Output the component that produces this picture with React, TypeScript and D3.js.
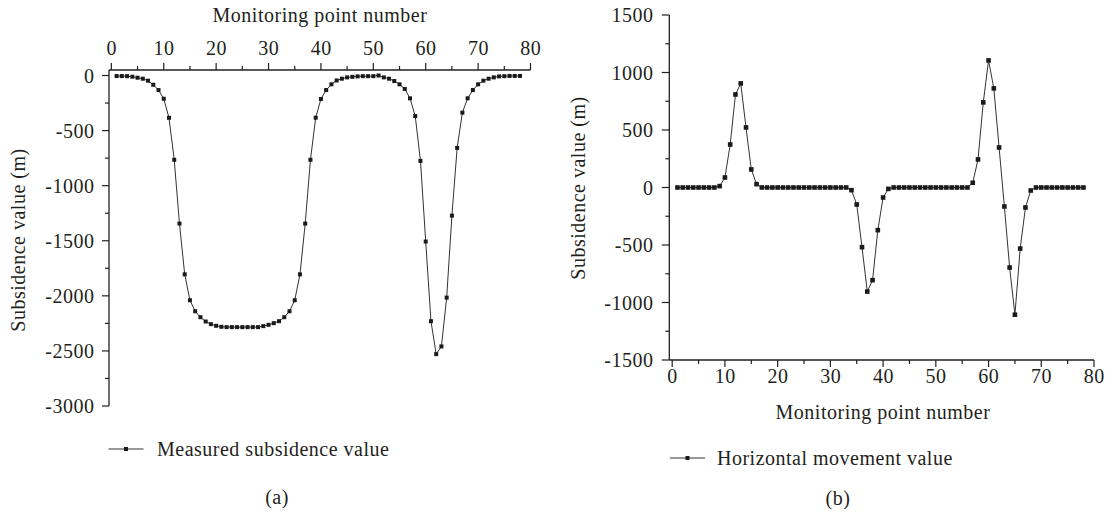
import React from "react";
import * as d3 from "d3";

const pointNumbers: number[] = d3.range(1, 79);

const subsidenceValues: number[] = [
  -5, -5, -6, -11, -20, -29, -47, -84, -132, -211,
  -384, -765, -1344, -1805, -2040, -2140, -2194, -2233, -2257, -2272,
  -2281, -2284, -2284, -2284, -2284, -2284, -2284, -2284, -2275, -2263,
  -2248, -2230, -2194, -2140, -2040, -1805, -1344, -765, -383, -213,
  -132, -80, -45, -29, -17, -12, -8, -6, -6, -6,
  0, -17, -29, -50, -80, -122, -207, -368, -775, -1507,
  -2230, -2529, -2459, -2016, -1272, -657, -337, -207, -132, -80,
  -47, -29, -17, -8, -6, -4, -4, -4,
];

const horizontalValues: number[] = [
  0, 0, 0, 0, 0, 0, 0, 0, 12, 87,
  374, 809, 905, 522, 157, 29, 0, 0, 0, 0,
  0, 0, 0, 0, 0, 0, 0, 0, 0, 0,
  0, 0, 0, -23, -148, -519, -905, -806, -371, -87,
  -12, 0, 0, 0, 0, 0, 0, 0, 0, 0,
  0, 0, 0, 0, 0, 0, 41, 244, 740, 1105,
  862, 348, -165, -696, -1106, -531, -174, -26, 0, 0,
  0, 0, 0, 0, 0, 0, 0, 0,
];

const xTicks: number[] = [0, 10, 20, 30, 40, 50, 60, 70, 80];
const xMinorTicks: number[] = [5, 15, 25, 35, 45, 55, 65, 75];
const leftYTicks: number[] = [0, -500, -1000, -1500, -2000, -2500, -3000];
const leftYMinor: number[] = [-250, -750, -1250, -1750, -2250, -2750];
const rightYTicks: number[] = [1500, 1000, 500, 0, -500, -1000, -1500];
const rightYMinor: number[] = [1250, 750, 250, -250, -750, -1250];

const xTitle = "Monitoring point number";
const yTitle = "Subsidence value (m)";
const legendA = "Measured subsidence value";
const legendB = "Horizontal movement value";

const FONT = "'Liberation Serif', 'Times New Roman', serif";
const FS = 20;
const LS = 0.5;
const INK = "#231f20";

const fmt = (v: number) => (v < 0 ? "-" + Math.abs(v) : String(v));

const textProps = {
  fontSize: FS,
  fontFamily: FONT,
  fill: INK,
  letterSpacing: LS,
  dominantBaseline: "central" as const,
};

function LeftChart() {
  const x = d3.scaleLinear().domain([-0.45, 80]).range([109, 530.5]);
  const y = d3.scaleLinear().domain([-3000, 50]).range([406, 70]);
  const line = d3
    .line<number>()
    .x((_, i) => x(pointNumbers[i]))
    .y((d) => y(d));
  const ax = x.range();
  const ay = y.range();
  const ms = 4;
  return (
    <g>
      <line x1={ax[0]} x2={ax[1]} y1={ay[1]} y2={ay[1]} stroke={INK} strokeWidth={1.3} />
      {xTicks.map((t) => (
        <g key={"xt" + t}>
          <line x1={x(t)} x2={x(t)} y1={ay[1]} y2={ay[1] - 7} stroke={INK} strokeWidth={1.2} />
          <text x={x(t) + 0.3} y={48} textAnchor="middle" {...textProps}>
            {fmt(t)}
          </text>
        </g>
      ))}
      {xMinorTicks.map((t) => (
        <line key={"xm" + t} x1={x(t)} x2={x(t)} y1={ay[1]} y2={ay[1] - 4} stroke={INK} strokeWidth={1.2} />
      ))}
      <line x1={ax[0]} x2={ax[0]} y1={ay[0]} y2={ay[1]} stroke={INK} strokeWidth={1.3} />
      {leftYTicks.map((t) => (
        <g key={"yt" + t}>
          <line x1={ax[0]} x2={ax[0] - 7} y1={y(t)} y2={y(t)} stroke={INK} strokeWidth={1.2} />
          <text x={94.5} y={y(t)} textAnchor="end" {...textProps}>
            {fmt(t)}
          </text>
        </g>
      ))}
      {leftYMinor.map((t) => (
        <line key={"ym" + t} x1={ax[0]} x2={ax[0] - 4} y1={y(t)} y2={y(t)} stroke={INK} strokeWidth={1.2} />
      ))}
      <text x={320} y={15} textAnchor="middle" {...textProps}>
        {xTitle}
      </text>
      <text transform={`translate(18,240) rotate(-90)`} textAnchor="middle" {...textProps}>
        {yTitle}
      </text>
      <path d={line(subsidenceValues) || ""} fill="none" stroke="#333" strokeWidth={1} />
      {subsidenceValues.map((v, i) => (
        <rect key={"p" + i} x={x(pointNumbers[i]) - ms / 2} y={y(v) - ms / 2} width={ms} height={ms} fill="#1a1a1a" />
      ))}
      <line x1={108.5} x2={143.5} y1={449} y2={449} stroke="#333" strokeWidth={1} />
      <rect x={126 - ms / 2} y={449 - ms / 2} width={ms} height={ms} fill="#1a1a1a" />
      <text x={157} y={449} {...textProps}>
        {legendA}
      </text>
      <text x={277} y={497} textAnchor="middle" {...textProps}>
        (a)
      </text>
    </g>
  );
}

function RightChart() {
  const x = d3.scaleLinear().domain([-0.55, 80]).range([669.3, 1094]);
  const y = d3.scaleLinear().domain([-1500, 1500]).range([360, 15]);
  const line = d3
    .line<number>()
    .x((_, i) => x(pointNumbers[i]))
    .y((d) => y(d));
  const ax = x.range();
  const ay = y.range();
  const ms = 4.6;
  return (
    <g>
      <line x1={ax[0]} x2={ax[1]} y1={ay[0]} y2={ay[0]} stroke={INK} strokeWidth={1.3} />
      {xTicks.map((t) => (
        <g key={"xt" + t}>
          <line x1={x(t)} x2={x(t)} y1={ay[0]} y2={ay[0] + 7} stroke={INK} strokeWidth={1.2} />
          <text x={x(t) + 0.3} y={376} textAnchor="middle" {...textProps}>
            {fmt(t)}
          </text>
        </g>
      ))}
      {xMinorTicks.map((t) => (
        <line key={"xm" + t} x1={x(t)} x2={x(t)} y1={ay[0]} y2={ay[0] + 4} stroke={INK} strokeWidth={1.2} />
      ))}
      <line x1={ax[0]} x2={ax[0]} y1={ay[0]} y2={ay[1]} stroke={INK} strokeWidth={1.3} />
      {rightYTicks.map((t) => (
        <g key={"yt" + t}>
          <line x1={ax[0]} x2={ax[0] - 7.5} y1={y(t)} y2={y(t)} stroke={INK} strokeWidth={1.2} />
          <text x={653.5} y={y(t)} textAnchor="end" {...textProps}>
            {fmt(t)}
          </text>
        </g>
      ))}
      {rightYMinor.map((t) => (
        <line key={"ym" + t} x1={ax[0]} x2={ax[0] - 4} y1={y(t)} y2={y(t)} stroke={INK} strokeWidth={1.2} />
      ))}
      <text x={883} y={412} textAnchor="middle" {...textProps}>
        {xTitle}
      </text>
      <text transform={`translate(578,188) rotate(-90)`} textAnchor="middle" {...textProps}>
        {yTitle}
      </text>
      <path d={line(horizontalValues) || ""} fill="none" stroke="#333" strokeWidth={1} />
      {horizontalValues.map((v, i) => (
        <rect key={"p" + i} x={x(pointNumbers[i]) - ms / 2} y={y(v) - ms / 2} width={ms} height={ms} fill="#1a1a1a" />
      ))}
      <line x1={670} x2={705} y1={458} y2={458} stroke="#333" strokeWidth={1} />
      <rect x={687.5 - 2} y={458 - 2} width={4} height={4} fill="#1a1a1a" />
      <text x={717} y={458} {...textProps}>
        {legendB}
      </text>
      <text x={838} y={498} textAnchor="middle" {...textProps}>
        (b)
      </text>
    </g>
  );
}

export default function App() {
  return (
    <svg
      width={1113}
      height={513}
      viewBox="0 0 1113 513"
      style={{ position: "absolute", left: 0, top: 0, background: "#fff" }}
    >
      <rect x={0} y={0} width={1113} height={513} fill="#fff" />
      <LeftChart />
      <RightChart />
    </svg>
  );
}
